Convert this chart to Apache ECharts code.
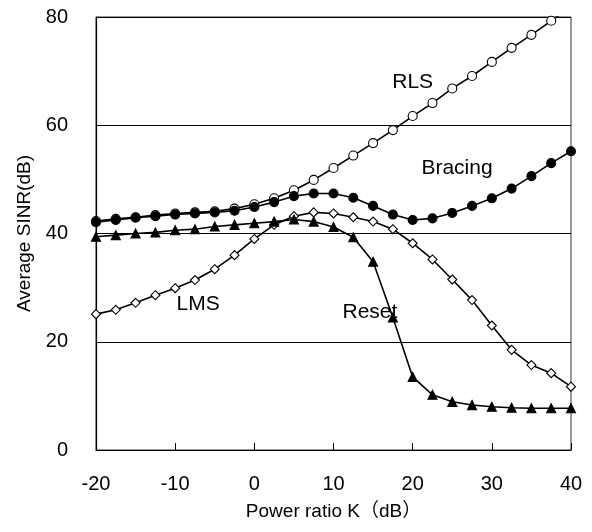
<!DOCTYPE html>
<html>
<head>
<meta charset="utf-8">
<script src="https://cdn.jsdelivr.net/npm/echarts@6/dist/echarts.min.js"></script>
<style>
  html, body { margin: 0; padding: 0; background: #fff; }
  #main { width: 592px; height: 532px; }
</style>
</head>
<body>
<div id="main"></div>
<script>
// power ratio K (dB), step 2.5
const kValues = [-20, -17.5, -15, -12.5, -10, -7.5, -5, -2.5, 0, 2.5, 5, 7.5, 10,
  12.5, 15, 17.5, 20, 22.5, 25, 27.5, 30, 32.5, 35, 37.5, 40];

const rls = [42.3, 42.7, 43.0, 43.4, 43.7, 43.9, 44.1, 44.6, 45.4, 46.5, 48.0, 49.9, 52.1,
  54.4, 56.7, 59.1, 61.7, 64.1, 66.8, 69.1, 71.7, 74.3, 76.7, 79.3, 81.8];
const bracing = [42.1, 42.5, 42.9, 43.2, 43.5, 43.7, 43.9, 44.2, 44.9, 45.8, 46.9, 47.4, 47.4,
  46.6, 45.1, 43.5, 42.5, 42.8, 43.8, 45.1, 46.5, 48.3, 50.6, 53.0, 55.2];
const lms = [25.1, 25.9, 27.2, 28.6, 29.9, 31.4, 33.4, 36.0, 39.0, 41.6, 43.2, 43.9, 43.7,
  43.0, 42.2, 40.8, 38.2, 35.2, 31.5, 27.7, 23.0, 18.5, 15.7, 14.2, 11.7];
const reset = [39.4, 39.7, 40.0, 40.2, 40.6, 40.8, 41.3, 41.6, 41.9, 42.2, 42.6, 42.2, 41.2,
  39.3, 34.8, 24.5, 13.5, 10.2, 8.9, 8.3, 8.0, 7.8, 7.7, 7.7, 7.7];

// curve name labels: [name, k, sinr]
const curveLabels = [
  ['RLS', 20.0, 68.0],
  ['Bracing', 25.6, 52.1],
  ['LMS', -7.1, 27.0],
  ['Reset', 14.6, 25.5]
];

const font = 'Liberation Sans, Arial, Noto Sans CJK SC, sans-serif';

function pairs(ys) {
  return kValues.map((k, i) => [k, ys[i]]);
}

function makeSeries(name, ys, symbol, filled, size) {
  const lab = curveLabels.find(l => l[0] === name);
  return {
    name: name,
    type: 'line',
    data: pairs(ys),
    symbol: symbol,
    symbolSize: size,
    showAllSymbol: true,
    clip: true,
    lineStyle: { color: '#000', width: 1.6 },
    itemStyle: {
      color: filled ? '#000' : '#fff',
      borderColor: '#000',
      borderWidth: 1.1
    },
    emphasis: { disabled: true },
    markPoint: {
      symbol: 'circle',
      symbolSize: 0,
      silent: true,
      label: {
        show: true,
        position: 'inside',
        formatter: name,
        color: '#000',
        fontSize: 21,
        fontFamily: font
      },
      data: [{ coord: [lab[1], lab[2]] }]
    }
  };
}

const chart = echarts.init(document.getElementById('main'));
chart.setOption({
  animation: false,
  backgroundColor: '#fff',
  grid: {
    left: 96, right: 21, top: 17, bottom: 82,
    show: true,
    borderColor: '#333',
    borderWidth: 1
  },
  xAxis: {
    type: 'value',
    min: -20, max: 40, interval: 10,
    name: 'Power ratio K（dB）',
    nameLocation: 'middle',
    nameGap: 52,
    nameTextStyle: { color: '#000', fontSize: 19, fontFamily: font },
    axisLine: { onZero: false, lineStyle: { color: '#000', width: 1.2 } },
    axisTick: { show: true, inside: true, length: 7, lineStyle: { color: '#000' } },
    axisLabel: { color: '#000', fontSize: 20, fontFamily: font, margin: 24 },
    splitLine: { show: false }
  },
  yAxis: {
    type: 'value',
    min: 0, max: 80, interval: 20,
    name: 'Average SINR(dB)',
    nameLocation: 'middle',
    nameGap: 62,
    nameTextStyle: { color: '#000', fontSize: 19, fontFamily: font },
    axisLine: { show: true, onZero: false, lineStyle: { color: '#000', width: 1.2 } },
    axisTick: { show: false },
    axisLabel: { color: '#000', fontSize: 20, fontFamily: font, margin: 28 },
    splitLine: { show: true, lineStyle: { color: '#000', width: 1 } }
  },
  series: [
    makeSeries('RLS', rls, 'circle', false, 9),
    makeSeries('Bracing', bracing, 'circle', true, 9),
    makeSeries('LMS', lms, 'diamond', false, 9),
    makeSeries('Reset', reset, 'triangle', true, 9)
  ]
});
</script>
</body>
</html>
